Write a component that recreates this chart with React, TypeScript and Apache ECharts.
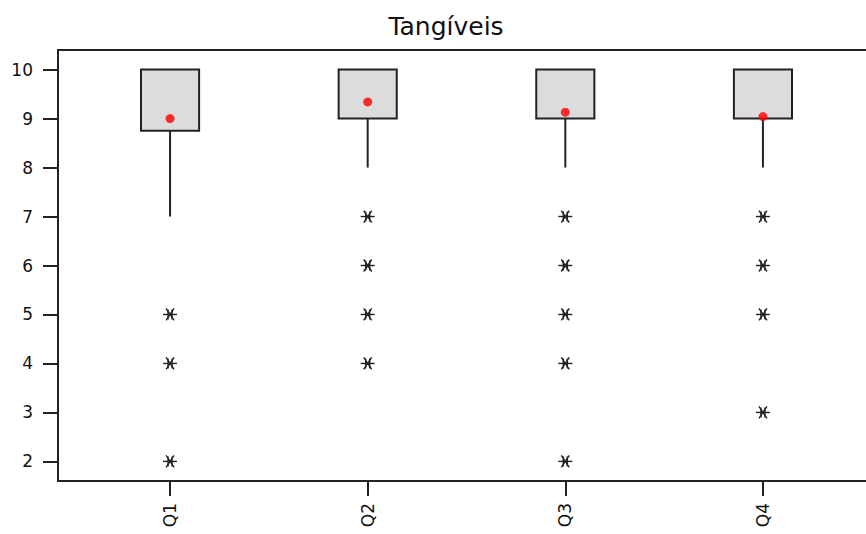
import React, { useEffect, useRef } from "react";
import * as echarts from "echarts";

// Quarter labels and their positions on the x value axis
const categories = ["Q1", "Q2", "Q3", "Q4"];
const positions = [1, 2, 3, 4];

// Box statistics per quarter
const whiskerLow = [7, 8, 8, 8];
const quartile1 = [8.75, 9, 9, 9];
const quartile3 = [10, 10, 10, 10];
const whiskerHigh = [10, 10, 10, 10];
const means = [9.0, 9.34, 9.13, 9.04];

// Outlying observations per quarter
const outliers = [
  [5, 4, 2],
  [7, 6, 5, 4],
  [7, 6, 5, 4, 2],
  [7, 6, 5, 3],
];

const yTicks = [2, 3, 4, 5, 6, 7, 8, 9, 10];

const INK = "#222";
const FONT = "DejaVu Sans";

export default function App() {
  const ref = useRef<HTMLDivElement>(null);

  useEffect(() => {
    if (!ref.current) return;
    const chart = echarts.init(ref.current, null, { renderer: "svg" });

    const boxData = positions.map((x, i) => [
      x,
      whiskerLow[i],
      quartile1[i],
      quartile3[i],
      whiskerHigh[i],
    ]);
    const meanData = positions.map((x, i) => [x, means[i]]);
    const outlierData: number[][] = [];
    positions.forEach((x, i) => outliers[i].forEach((v) => outlierData.push([x, v])));

    const halfBox = 0.147;

    chart.setOption({
      animation: false,
      backgroundColor: "#fff",
      title: {
        text: "Tangíveis",
        left: 441,
        textAlign: "center",
        top: 9,
        textStyle: { fontFamily: FONT, fontSize: 25, fontWeight: "normal", color: "#111" },
      },
      // plot frame runs past the right edge of the visible page
      grid: {
        left: 58,
        top: 50,
        width: 817,
        height: 431,
        show: true,
        borderColor: INK,
        borderWidth: 2,
        backgroundColor: "transparent",
      },
      xAxis: {
        type: "value",
        min: 0.433,
        max: 4.567,
        splitLine: { show: false },
        axisLine: { show: false },
        axisTick: {
          show: true,
          length: 15,
          customValues: positions,
          lineStyle: { color: INK, width: 2 },
        },
        axisLabel: {
          show: true,
          customValues: positions,
          rotate: 90,
          margin: 22,
          fontFamily: FONT,
          fontSize: 17,
          color: "#111",
          formatter: (v: number) => categories[Math.round(v) - 1] ?? "",
        },
      },
      yAxis: {
        type: "value",
        min: 1.6,
        max: 10.4,
        splitLine: { show: false },
        axisLine: { show: false },
        axisTick: {
          show: true,
          length: 15,
          customValues: yTicks,
          lineStyle: { color: INK, width: 2 },
        },
        axisLabel: {
          show: true,
          customValues: yTicks,
          margin: 25,
          fontFamily: FONT,
          fontSize: 17,
          color: "#111",
        },
      },
      series: [
        {
          type: "custom",
          data: boxData,
          encode: { x: 0, y: [1, 2, 3, 4] },
          renderItem: (_params: any, api: any) => {
            const x = api.value(0);
            const low = api.value(1);
            const q1 = api.value(2);
            const q3 = api.value(3);
            const high = api.value(4);
            const left = api.coord([x - halfBox, q3]);
            const right = api.coord([x + halfBox, q1]);
            const cLow = api.coord([x, low]);
            const cQ1 = api.coord([x, q1]);
            const cQ3 = api.coord([x, q3]);
            const cHigh = api.coord([x, high]);
            return {
              type: "group",
              children: [
                {
                  type: "line",
                  shape: { x1: cLow[0], y1: cLow[1], x2: cQ1[0], y2: cQ1[1] },
                  style: { stroke: INK, lineWidth: 2 },
                },
                {
                  type: "line",
                  shape: { x1: cQ3[0], y1: cQ3[1], x2: cHigh[0], y2: cHigh[1] },
                  style: { stroke: INK, lineWidth: 2 },
                },
                {
                  type: "rect",
                  shape: {
                    x: left[0],
                    y: left[1],
                    width: right[0] - left[0],
                    height: right[1] - left[1],
                  },
                  style: { fill: "#dcdcdc", stroke: INK, lineWidth: 2 },
                },
              ],
            };
          },
          z: 2,
        },
        {
          type: "custom",
          data: outlierData,
          encode: { x: 0, y: 1 },
          renderItem: (_params: any, api: any) => {
            const c = api.coord([api.value(0), api.value(1)]);
            const w = 7;
            const h = 6;
            const st = { stroke: INK, lineWidth: 1.4 };
            return {
              type: "group",
              children: [
                { type: "line", shape: { x1: c[0] - w, y1: c[1], x2: c[0] + w, y2: c[1] }, style: st },
                { type: "line", shape: { x1: c[0] - 4, y1: c[1] - h, x2: c[0] + 4, y2: c[1] + h }, style: st },
                { type: "line", shape: { x1: c[0] + 4, y1: c[1] - h, x2: c[0] - 4, y2: c[1] + h }, style: st },
                { type: "line", shape: { x1: c[0] - 2, y1: c[1] - h + 1, x2: c[0] - 2, y2: c[1] + h - 1 }, style: st },
                { type: "line", shape: { x1: c[0] + 2, y1: c[1] - h + 1, x2: c[0] + 2, y2: c[1] + h - 1 }, style: st },
              ],
            };
          },
          z: 3,
        },
        {
          type: "scatter",
          data: meanData,
          symbol: "circle",
          symbolSize: 9,
          itemStyle: { color: "#ff0000" },
          z: 4,
        },
      ],
    });

    return () => chart.dispose();
  }, []);

  return (
    <div
      style={{
        position: "absolute",
        left: 0,
        top: 0,
        width: 866,
        height: 534,
        overflow: "hidden",
      }}
    >
      <div ref={ref} style={{ width: 900, height: 534 }} />
    </div>
  );
}
